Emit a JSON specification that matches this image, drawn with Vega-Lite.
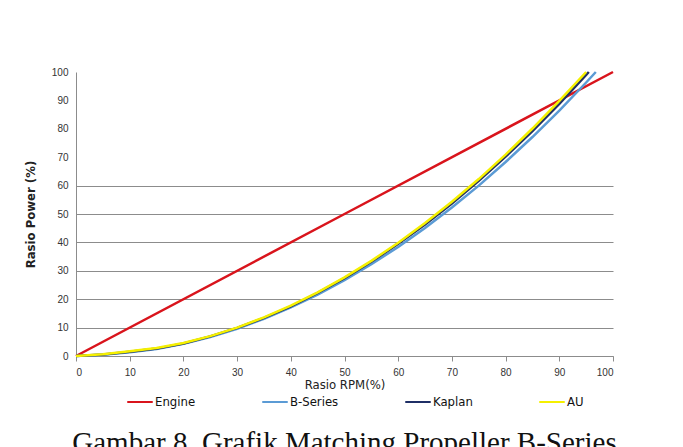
{
  "$schema": "https://vega.github.io/schema/vega-lite/v6.json",
  "width": 537,
  "height": 284,
  "autosize": {"type": "none"},
  "padding": {"left": 76, "top": 72, "right": 70, "bottom": 91},
  "background": "white",
  "title": {
    "text": "Gambar 8. Grafik Matching Propeller B-Series",
    "orient": "bottom",
    "anchor": "middle",
    "font": "Liberation Serif",
    "fontSize": 29,
    "fontWeight": "normal",
    "color": "#111111",
    "offset": 20
  },
  "config": {
    "view": {"stroke": null},
    "axis": {
      "labelFont": "Liberation Sans",
      "labelFontSize": 10,
      "labelColor": "#333333",
      "titleFont": "DejaVu Sans Condensed",
      "titleFontSize": 13,
      "titleFontWeight": "normal",
      "titleColor": "#222222",
      "domainColor": "#8c8c8c",
      "tickColor": "#8c8c8c"
    }
  },
  "data": {
    "values": [
      {"series": "Engine", "rpm": 0, "power": 0},
      {"series": "Engine", "rpm": 50, "power": 50},
      {"series": "Engine", "rpm": 100, "power": 100},
      {"series": "B-Series", "rpm": 0, "power": 0},
      {"series": "B-Series", "rpm": 5, "power": 0.4},
      {"series": "B-Series", "rpm": 10, "power": 1.3},
      {"series": "B-Series", "rpm": 15, "power": 2.5},
      {"series": "B-Series", "rpm": 20, "power": 4.3},
      {"series": "B-Series", "rpm": 25, "power": 6.7},
      {"series": "B-Series", "rpm": 30, "power": 9.6},
      {"series": "B-Series", "rpm": 35, "power": 13.1},
      {"series": "B-Series", "rpm": 40, "power": 17.1},
      {"series": "B-Series", "rpm": 45, "power": 21.6},
      {"series": "B-Series", "rpm": 50, "power": 26.7},
      {"series": "B-Series", "rpm": 55, "power": 32.3},
      {"series": "B-Series", "rpm": 60, "power": 38.4},
      {"series": "B-Series", "rpm": 65, "power": 45.1},
      {"series": "B-Series", "rpm": 70, "power": 52.3},
      {"series": "B-Series", "rpm": 75, "power": 60.0},
      {"series": "B-Series", "rpm": 80, "power": 68.3},
      {"series": "B-Series", "rpm": 85, "power": 77.1},
      {"series": "B-Series", "rpm": 90, "power": 86.4},
      {"series": "B-Series", "rpm": 95, "power": 96.3},
      {"series": "B-Series", "rpm": 96.8, "power": 100},
      {"series": "Kaplan", "rpm": 0, "power": 0},
      {"series": "Kaplan", "rpm": 5, "power": 0.5},
      {"series": "Kaplan", "rpm": 10, "power": 1.5},
      {"series": "Kaplan", "rpm": 15, "power": 2.6},
      {"series": "Kaplan", "rpm": 20, "power": 4.4},
      {"series": "Kaplan", "rpm": 25, "power": 6.9},
      {"series": "Kaplan", "rpm": 30, "power": 9.9},
      {"series": "Kaplan", "rpm": 35, "power": 13.4},
      {"series": "Kaplan", "rpm": 40, "power": 17.5},
      {"series": "Kaplan", "rpm": 45, "power": 22.2},
      {"series": "Kaplan", "rpm": 50, "power": 27.4},
      {"series": "Kaplan", "rpm": 55, "power": 33.2},
      {"series": "Kaplan", "rpm": 60, "power": 39.5},
      {"series": "Kaplan", "rpm": 65, "power": 46.3},
      {"series": "Kaplan", "rpm": 70, "power": 53.7},
      {"series": "Kaplan", "rpm": 75, "power": 61.7},
      {"series": "Kaplan", "rpm": 80, "power": 70.2},
      {"series": "Kaplan", "rpm": 85, "power": 79.2},
      {"series": "Kaplan", "rpm": 90, "power": 88.8},
      {"series": "Kaplan", "rpm": 95, "power": 99.0},
      {"series": "Kaplan", "rpm": 95.5, "power": 100},
      {"series": "AU", "rpm": 0, "power": 0},
      {"series": "AU", "rpm": 5, "power": 0.6},
      {"series": "AU", "rpm": 10, "power": 1.7},
      {"series": "AU", "rpm": 15, "power": 2.8},
      {"series": "AU", "rpm": 20, "power": 4.6},
      {"series": "AU", "rpm": 25, "power": 7.0},
      {"series": "AU", "rpm": 30, "power": 10.0},
      {"series": "AU", "rpm": 35, "power": 13.6},
      {"series": "AU", "rpm": 40, "power": 17.7},
      {"series": "AU", "rpm": 45, "power": 22.4},
      {"series": "AU", "rpm": 50, "power": 27.7},
      {"series": "AU", "rpm": 55, "power": 33.5},
      {"series": "AU", "rpm": 60, "power": 39.9},
      {"series": "AU", "rpm": 65, "power": 46.8},
      {"series": "AU", "rpm": 70, "power": 54.3},
      {"series": "AU", "rpm": 75, "power": 62.3},
      {"series": "AU", "rpm": 80, "power": 70.9},
      {"series": "AU", "rpm": 85, "power": 80.1},
      {"series": "AU", "rpm": 90, "power": 89.8},
      {"series": "AU", "rpm": 95, "power": 100}
    ]
  },
  "mark": {"type": "line", "strokeWidth": 2.5, "clip": false},
  "encoding": {
    "x": {
      "field": "rpm",
      "type": "quantitative",
      "scale": {"domain": [0, 100], "nice": false},
      "axis": {
        "values": [0, 10, 20, 30, 40, 50, 60, 70, 80, 90, 100],
        "title": "Rasio RPM(%)",
        "grid": false,
        "tickSize": 5,
        "labelPadding": 6,
        "titlePadding": 1
      }
    },
    "y": {
      "field": "power",
      "type": "quantitative",
      "scale": {"domain": [0, 100], "nice": false},
      "axis": {
        "values": [0, 10, 20, 30, 40, 50, 60, 70, 80, 90, 100],
        "title": "Rasio Power (%)",
        "titleFontWeight": "bold",
        "grid": true,
        "gridColor": "#8c8c8c",
        "gridOpacity": {"condition": {"test": "datum.value > 60", "value": 0}, "value": 1},
        "tickSize": 0,
        "labelPadding": 8,
        "titlePadding": 14
      }
    },
    "color": {
      "field": "series",
      "type": "nominal",
      "sort": ["Engine", "B-Series", "Kaplan", "AU"],
      "scale": {
        "domain": ["Engine", "B-Series", "Kaplan", "AU"],
        "range": ["#d9141c", "#5b9bd5", "#1f2f66", "#f5f000"]
      },
      "legend": {
        "title": null,
        "orient": "none",
        "direction": "horizontal",
        "legendX": 50,
        "legendY": 316,
        "symbolType": "stroke",
        "symbolSize": 650,
        "symbolStrokeWidth": 2,
        "labelFont": "DejaVu Sans Condensed",
        "labelFontSize": 13,
        "labelColor": "#111111",
        "labelOffset": 1,
        "columnPadding": 62
      }
    },
    "order": {"field": "series", "sort": "ascending"}
  }
}
